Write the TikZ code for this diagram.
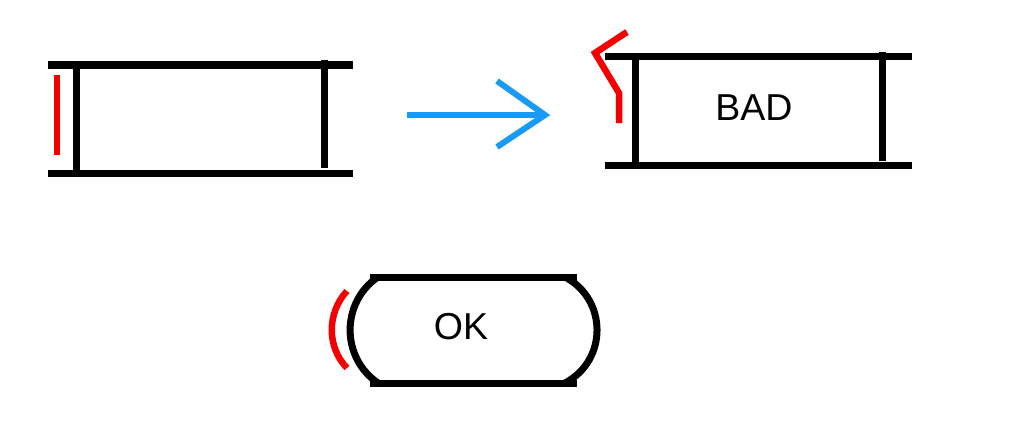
\documentclass[tikz,border=0pt]{standalone}
\usepackage{fontspec}
\setmainfont{Liberation Sans}
\definecolor{arrowblue}{RGB}{25,155,245}
\definecolor{markred}{RGB}{245,0,0}
\begin{document}
\begin{tikzpicture}[x=1pt,y=-1pt,
  blk/.style={line width=7pt,black,line cap=butt},
  redmark/.style={line width=6.5pt,markred,line cap=butt,line join=miter},
  bluearrow/.style={line width=6pt,arrowblue,line cap=butt,line join=miter},
  lbl/.style={font=\fontsize{37.5}{40}\selectfont,inner sep=0pt}]
\useasboundingbox (0,0) rectangle (1011,444);
% left shape
\draw[blk] (48,65) -- (353,65);
\draw[blk] (48,173) -- (353,173);
\draw[blk] (76,65) -- (76,173);
\draw[blk] (324,60) -- (324,168);
\draw[redmark] (57,75) -- (57,155);
% arrow
\coordinate (as) at (407,115);
\coordinate (ae) at (545,115);
\draw[bluearrow] (as) -- (ae);
\draw[bluearrow] (497,81) -- (ae) -- (497,147);
% right shape
\draw[blk] (605,57) -- (912,57);
\draw[blk] (605,165) -- (912,165);
\draw[blk] (635,57) -- (635,165);
\draw[blk] (882,52) -- (882,161);
\draw[redmark] (627,32) -- (595,53) -- (619,93) -- (619,123);
\node[lbl] (bad) at (754,108) {BAD};
% OK shape
\draw[blk] (370,277) -- (577,277);
\draw[blk] (370,383) -- (577,383);
\draw[blk] (378,277) .. controls (340.8,302.3) and (340.8,357.7) .. (378,383);
\draw[blk] (565,277) .. controls (607.7,299.5) and (607.7,360.5) .. (565,383);
\draw[redmark] (347,291) .. controls (326.7,312.8) and (326.7,347.2) .. (347,368);
\node[lbl] (ok) at (461,327) {OK};
\end{tikzpicture}
\end{document}
